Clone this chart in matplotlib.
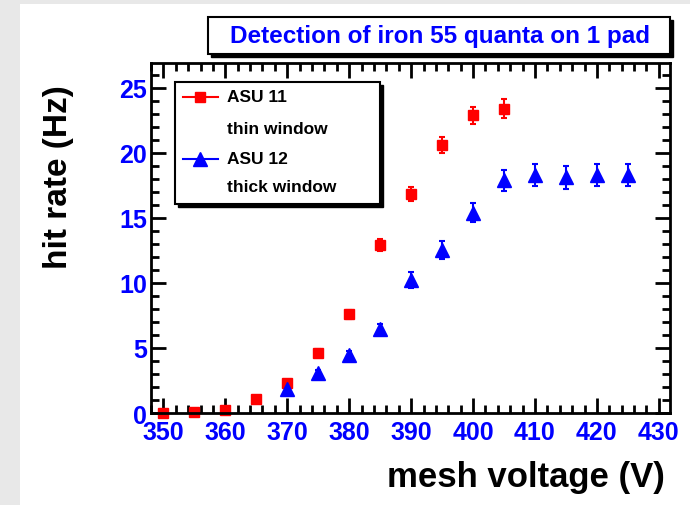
import matplotlib
matplotlib.use("Agg")
import matplotlib.pyplot as plt
from matplotlib.patches import Rectangle
from matplotlib.lines import Line2D
from matplotlib.ticker import MultipleLocator

plt.rcParams['font.family'] = ['Liberation Sans', 'DejaVu Sans']

# Fe-55 hit rate versus mesh voltage
v_asu11 = [350, 355, 360, 365, 370, 375, 380, 385, 390, 395, 400, 405]
rate_asu11 = [0.0, 0.08, 0.2, 1.08, 2.3, 4.6, 7.6, 12.9, 16.85, 20.6, 22.9, 23.4]
err_asu11 = [0.05, 0.05, 0.1, 0.15, 0.2, 0.3, 0.35, 0.45, 0.55, 0.6, 0.65, 0.7]

v_asu12 = [370, 375, 380, 385, 390, 395, 400, 405, 410, 415, 420, 425]
rate_asu12 = [1.85, 3.08, 4.46, 6.46, 10.2, 12.5, 15.4, 17.9, 18.3, 18.1, 18.3, 18.3]
err_asu12 = [0.2, 0.25, 0.3, 0.35, 0.6, 0.7, 0.75, 0.8, 0.85, 0.85, 0.85, 0.85]

labels = ["ASU 11", "thin window", "ASU 12", "thick window"]
title = "Detection of iron 55 quanta on 1 pad"
xlabel = "mesh voltage (V)"
ylabel = "hit rate (Hz)"

W, H = 690, 506
fig = plt.figure(figsize=(W / 100, H / 100), dpi=100)
fig.patch.set_facecolor("#e8e8e8")


def fx(x):
    return x / W


def fy(y):
    return 1 - y / H


# white canvas pad
fig.patches.append(Rectangle((fx(20), 0), 1 - fx(20), fy(5), transform=fig.transFigure,
                             facecolor="white", edgecolor="none", zorder=-10))

ax = fig.add_axes([fx(151), fy(414), fx(670) - fx(151), fy(64) - fy(414)])
ax.set_zorder(1)
ax.set_facecolor("white")
ax.set_xlim(348, 431.8)
ax.set_ylim(0, 26.9)

ax.errorbar(v_asu11, rate_asu11, yerr=err_asu11, fmt="s", color="#ff0000",
            markersize=7.2, elinewidth=1.5, capsize=2, capthick=1.5, clip_on=False, zorder=3)
ax.errorbar(v_asu12, rate_asu12, yerr=err_asu12, fmt="^", color="#0000ff",
            markersize=10, elinewidth=1.5, capsize=2, capthick=1.5, clip_on=False, zorder=3)

for s in ax.spines.values():
    s.set_linewidth(2)
    s.set_zorder(4)

ax.xaxis.set_major_locator(MultipleLocator(10))
ax.xaxis.set_minor_locator(MultipleLocator(2))
ax.yaxis.set_major_locator(MultipleLocator(5))
ax.yaxis.set_minor_locator(MultipleLocator(1))
ax.tick_params(which="both", direction="in", top=True, right=True, width=2,
               colors="black", labelcolor="#0000ff", labelsize=18)
ax.tick_params(which="major", length=11)
ax.tick_params(which="minor", length=6)
ax.tick_params(axis="x", pad=5)
ax.tick_params(axis="y", pad=3)
for lab in ax.get_xticklabels() + ax.get_yticklabels():
    lab.set_fontweight("bold")

fig.text(fx(665), fy(478), xlabel, ha="right", va="center", fontsize=25, fontweight="bold")
fig.text(fx(58), fy(85), ylabel, ha="center", va="top", rotation=90, fontsize=24, fontweight="bold")

# title box with drop shadow
sh = 3
fig.patches.append(Rectangle((fx(208 + sh), fy(55 + sh)), fx(670) - fx(208), fy(18) - fy(55),
                             transform=fig.transFigure, facecolor="black", edgecolor="black", zorder=5))
fig.patches.append(Rectangle((fx(208), fy(55)), fx(670) - fx(208), fy(18) - fy(55),
                             transform=fig.transFigure, facecolor="white", edgecolor="black",
                             linewidth=1.5, zorder=6))
fig.text(fx(440), fy(37), title, ha="center", va="center", fontsize=17.5,
         fontweight="bold", color="#0000ff", zorder=7)

# legend box with drop shadow
fig.patches.append(Rectangle((fx(175 + sh), fy(205 + sh)), fx(380) - fx(175), fy(83) - fy(205),
                             transform=fig.transFigure, facecolor="black", edgecolor="black", zorder=5))
fig.patches.append(Rectangle((fx(175), fy(205)), fx(380) - fx(175), fy(83) - fy(205),
                             transform=fig.transFigure, facecolor="white", edgecolor="black",
                             linewidth=1.5, zorder=6))
rows = [98, 129, 160, 188]
fig.lines.append(Line2D([fx(183), fx(218)], [fy(rows[0])] * 2, transform=fig.transFigure,
                        color="#ff0000", linewidth=1.5, zorder=7))
fig.lines.append(Line2D([fx(200)], [fy(rows[0])], transform=fig.transFigure, marker="s",
                        markersize=7.2, color="#ff0000", linestyle="none", zorder=8))
fig.lines.append(Line2D([fx(183), fx(218)], [fy(rows[2])] * 2, transform=fig.transFigure,
                        color="#0000ff", linewidth=1.5, zorder=7))
fig.lines.append(Line2D([fx(200)], [fy(rows[2])], transform=fig.transFigure, marker="^",
                        markersize=10, color="#0000ff", linestyle="none", zorder=8))
for lab, r in zip(labels, rows):
    fig.text(fx(227), fy(r), lab, ha="left", va="center", fontsize=12.5,
             fontweight="bold", color="black", zorder=8)

fig.savefig("out.png", dpi=100)
